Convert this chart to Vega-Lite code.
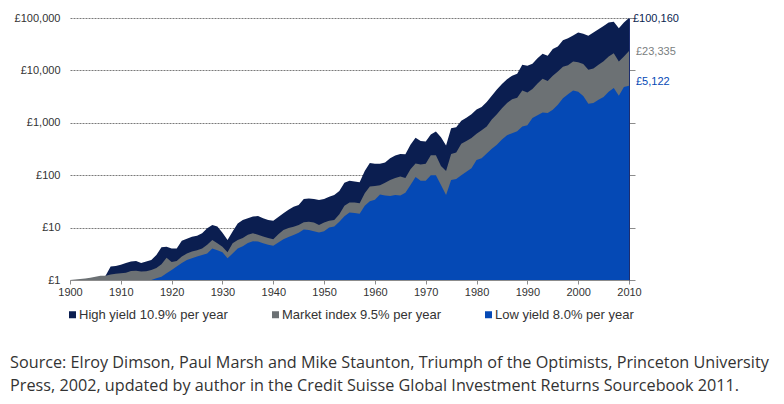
{
  "$schema": "https://vega.github.io/schema/vega-lite/v6.json",
  "autosize": {"type": "none"},
  "width": 559,
  "height": 262,
  "padding": {"left": 70, "top": 18, "right": 155, "bottom": 124},
  "background": "#ffffff",
  "config": {
    "view": {"stroke": null},
    "locale": {
      "number": {"decimal": ".", "thousands": ",", "grouping": [3], "currency": ["£", ""]}
    },
    "axis": {"labelFont": "Liberation Sans", "labelFontSize": 11, "labelColor": "#333333", "title": null},
    "legend": {"labelFont": "Liberation Sans", "labelFontSize": 13, "labelColor": "#333333"}
  },
  "title": {
    "text": [
      "Source: Elroy Dimson, Paul Marsh and Mike Staunton, Triumph of the Optimists, Princeton University",
      "Press, 2002, updated by author in the Credit Suisse Global Investment Returns Sourcebook 2011."
    ],
    "orient": "bottom",
    "anchor": "start",
    "frame": "bounds",
    "font": "Open Sans",
    "fontSize": 16.2,
    "fontWeight": "normal",
    "color": "#333333",
    "lineHeight": 23,
    "offset": 33,
    "dx": -4
  },
  "data": {
    "values": [
      {"year": 1900, "high": 1.0, "market": 1.0, "low": 1.0},
      {"year": 1901, "high": 0.98, "market": 1.02, "low": 0.95},
      {"year": 1902, "high": 1.0, "market": 1.05, "low": 0.92},
      {"year": 1903, "high": 1.02, "market": 1.07, "low": 0.9},
      {"year": 1904, "high": 1.03, "market": 1.1, "low": 0.88},
      {"year": 1905, "high": 1.08, "market": 1.15, "low": 0.9},
      {"year": 1906, "high": 1.12, "market": 1.2, "low": 0.88},
      {"year": 1907, "high": 1.2, "market": 1.2, "low": 0.82},
      {"year": 1908, "high": 1.8, "market": 1.28, "low": 0.8},
      {"year": 1909, "high": 1.85, "market": 1.32, "low": 0.8},
      {"year": 1910, "high": 1.95, "market": 1.34, "low": 0.82},
      {"year": 1911, "high": 2.1, "market": 1.38, "low": 0.8},
      {"year": 1912, "high": 2.25, "market": 1.48, "low": 0.78},
      {"year": 1913, "high": 2.3, "market": 1.5, "low": 0.8},
      {"year": 1914, "high": 2.1, "market": 1.45, "low": 0.78},
      {"year": 1915, "high": 2.25, "market": 1.47, "low": 0.85},
      {"year": 1916, "high": 2.4, "market": 1.55, "low": 1.0},
      {"year": 1917, "high": 3.0, "market": 1.7, "low": 1.08},
      {"year": 1918, "high": 4.2, "market": 2.0, "low": 1.15},
      {"year": 1919, "high": 4.3, "market": 2.65, "low": 1.35},
      {"year": 1920, "high": 4.0, "market": 2.2, "low": 1.55},
      {"year": 1921, "high": 4.0, "market": 2.3, "low": 1.8},
      {"year": 1922, "high": 5.6, "market": 2.8, "low": 2.1},
      {"year": 1923, "high": 6.1, "market": 3.2, "low": 2.4},
      {"year": 1924, "high": 6.7, "market": 3.5, "low": 2.6},
      {"year": 1925, "high": 7.0, "market": 3.7, "low": 2.8},
      {"year": 1926, "high": 7.8, "market": 4.0, "low": 3.0},
      {"year": 1927, "high": 9.7, "market": 4.7, "low": 3.2},
      {"year": 1928, "high": 11.2, "market": 5.8, "low": 4.0},
      {"year": 1929, "high": 10.5, "market": 5.0, "low": 3.7},
      {"year": 1930, "high": 8.0, "market": 4.3, "low": 3.4},
      {"year": 1931, "high": 5.8, "market": 3.4, "low": 2.6},
      {"year": 1932, "high": 8.4, "market": 5.0, "low": 3.2},
      {"year": 1933, "high": 12.0, "market": 5.8, "low": 4.0},
      {"year": 1934, "high": 14.0, "market": 6.3, "low": 4.4},
      {"year": 1935, "high": 15.0, "market": 7.3, "low": 5.1},
      {"year": 1936, "high": 16.2, "market": 7.8, "low": 5.5},
      {"year": 1937, "high": 16.7, "market": 7.3, "low": 5.4},
      {"year": 1938, "high": 15.0, "market": 6.8, "low": 5.0},
      {"year": 1939, "high": 14.0, "market": 6.3, "low": 4.7},
      {"year": 1940, "high": 13.5, "market": 6.0, "low": 4.5},
      {"year": 1941, "high": 16.0, "market": 7.5, "low": 5.2},
      {"year": 1942, "high": 18.8, "market": 9.0, "low": 6.0},
      {"year": 1943, "high": 22.0, "market": 9.8, "low": 6.6},
      {"year": 1944, "high": 25.0, "market": 10.4, "low": 7.2},
      {"year": 1945, "high": 27.0, "market": 11.2, "low": 8.0},
      {"year": 1946, "high": 35.0, "market": 12.7, "low": 9.2},
      {"year": 1947, "high": 36.0, "market": 12.9, "low": 9.0},
      {"year": 1948, "high": 35.0, "market": 12.5, "low": 8.5},
      {"year": 1949, "high": 33.8, "market": 11.2, "low": 8.1},
      {"year": 1950, "high": 35.0, "market": 12.5, "low": 8.5},
      {"year": 1951, "high": 39.0, "market": 13.5, "low": 10.0},
      {"year": 1952, "high": 42.0, "market": 14.0, "low": 10.5},
      {"year": 1953, "high": 50.0, "market": 18.0, "low": 13.0},
      {"year": 1954, "high": 72.0, "market": 26.0, "low": 16.5},
      {"year": 1955, "high": 78.0, "market": 30.0, "low": 19.4},
      {"year": 1956, "high": 76.0, "market": 30.0, "low": 19.0},
      {"year": 1957, "high": 73.0, "market": 29.0, "low": 18.3},
      {"year": 1958, "high": 120.0, "market": 45.0, "low": 26.0},
      {"year": 1959, "high": 170.0, "market": 61.0, "low": 32.0},
      {"year": 1960, "high": 165.0, "market": 62.0, "low": 34.0},
      {"year": 1961, "high": 165.0, "market": 64.0, "low": 43.0},
      {"year": 1962, "high": 175.0, "market": 72.0, "low": 41.0},
      {"year": 1963, "high": 210.0, "market": 81.0, "low": 40.0},
      {"year": 1964, "high": 237.0, "market": 88.0, "low": 42.0},
      {"year": 1965, "high": 255.0, "market": 94.0, "low": 41.0},
      {"year": 1966, "high": 250.0, "market": 88.0, "low": 46.0},
      {"year": 1967, "high": 380.0, "market": 130.0, "low": 65.0},
      {"year": 1968, "high": 520.0, "market": 168.0, "low": 92.0},
      {"year": 1969, "high": 450.0, "market": 160.0, "low": 78.0},
      {"year": 1970, "high": 440.0, "market": 165.0, "low": 78.0},
      {"year": 1971, "high": 600.0, "market": 240.0, "low": 100.0},
      {"year": 1972, "high": 680.0, "market": 240.0, "low": 100.0},
      {"year": 1973, "high": 530.0, "market": 150.0, "low": 65.0},
      {"year": 1974, "high": 370.0, "market": 120.0, "low": 42.0},
      {"year": 1975, "high": 790.0, "market": 255.0, "low": 81.0},
      {"year": 1976, "high": 825.0, "market": 270.0, "low": 85.0},
      {"year": 1977, "high": 1100.0, "market": 400.0, "low": 100.0},
      {"year": 1978, "high": 1250.0, "market": 450.0, "low": 117.0},
      {"year": 1979, "high": 1450.0, "market": 510.0, "low": 136.0},
      {"year": 1980, "high": 1800.0, "market": 620.0, "low": 195.0},
      {"year": 1981, "high": 2000.0, "market": 720.0, "low": 210.0},
      {"year": 1982, "high": 2500.0, "market": 850.0, "low": 260.0},
      {"year": 1983, "high": 3300.0, "market": 1150.0, "low": 320.0},
      {"year": 1984, "high": 4300.0, "market": 1450.0, "low": 380.0},
      {"year": 1985, "high": 5500.0, "market": 1900.0, "low": 480.0},
      {"year": 1986, "high": 6800.0, "market": 2400.0, "low": 580.0},
      {"year": 1987, "high": 7900.0, "market": 2800.0, "low": 635.0},
      {"year": 1988, "high": 8600.0, "market": 3000.0, "low": 690.0},
      {"year": 1989, "high": 12800.0, "market": 4150.0, "low": 850.0},
      {"year": 1990, "high": 12300.0, "market": 3800.0, "low": 900.0},
      {"year": 1991, "high": 13400.0, "market": 4400.0, "low": 1230.0},
      {"year": 1992, "high": 17000.0, "market": 5600.0, "low": 1400.0},
      {"year": 1993, "high": 20800.0, "market": 6900.0, "low": 1580.0},
      {"year": 1994, "high": 19000.0, "market": 6300.0, "low": 1530.0},
      {"year": 1995, "high": 25700.0, "market": 7900.0, "low": 1770.0},
      {"year": 1996, "high": 28600.0, "market": 9500.0, "low": 2200.0},
      {"year": 1997, "high": 37600.0, "market": 11800.0, "low": 2950.0},
      {"year": 1998, "high": 41000.0, "market": 12500.0, "low": 3500.0},
      {"year": 1999, "high": 46400.0, "market": 14800.0, "low": 4150.0},
      {"year": 2000, "high": 53000.0, "market": 14300.0, "low": 3900.0},
      {"year": 2001, "high": 50000.0, "market": 13300.0, "low": 3250.0},
      {"year": 2002, "high": 45700.0, "market": 10300.0, "low": 2300.0},
      {"year": 2003, "high": 52600.0, "market": 10900.0, "low": 2400.0},
      {"year": 2004, "high": 61000.0, "market": 12800.0, "low": 2750.0},
      {"year": 2005, "high": 70000.0, "market": 15000.0, "low": 3100.0},
      {"year": 2006, "high": 82000.0, "market": 18500.0, "low": 3900.0},
      {"year": 2007, "high": 85000.0, "market": 21300.0, "low": 4600.0},
      {"year": 2008, "high": 64000.0, "market": 14800.0, "low": 3300.0},
      {"year": 2009, "high": 82000.0, "market": 18400.0, "low": 4800.0},
      {"year": 2010, "high": 100160.0, "market": 23335.0, "low": 5122.0}
    ]
  },
  "transform": [{"fold": ["high", "market", "low"], "as": ["series", "value"]}],
  "resolve": {"axis": {"y": "independent"}},
  "encoding": {
    "x": {
      "field": "year",
      "type": "quantitative",
      "scale": {"domain": [1900, 2010], "nice": false, "zero": false},
      "axis": {
        "values": [1900, 1910, 1920, 1930, 1940, 1950, 1960, 1970, 1980, 1990, 2000, 2010],
        "format": "d",
        "grid": false,
        "domain": true,
        "domainColor": "#8c8c8c",
        "ticks": true,
        "tickColor": "#8c8c8c",
        "tickSize": 4,
        "labelPadding": 2,
        "labelFlush": false
      }
    },
    "color": {
      "field": "series",
      "type": "nominal",
      "scale": {"domain": ["high", "market", "low"], "range": ["#0b1e50", "#6c7174", "#0549b5"]},
      "legend": {
        "title": null,
        "orient": "none",
        "legendX": -4,
        "legendY": 290,
        "direction": "horizontal",
        "symbolType": "square",
        "symbolSize": 49,
        "symbolStrokeWidth": 0,
        "symbolOpacity": 1,
        "labelOffset": 0,
        "columnPadding": 41,
        "labelExpr": "datum.label == 'high' ? 'High yield 10.9% per year' : datum.label == 'market' ? 'Market index 9.5% per year' : 'Low yield 8.0% per year'"
      }
    }
  },
  "layer": [
    {
      "transform": [{"filter": "datum.series == 'high'"}],
      "mark": {"type": "area", "clip": true, "opacity": 1},
      "encoding": {
        "y": {
          "field": "value",
          "type": "quantitative",
          "scale": {"type": "log", "domain": [1, 100000], "nice": false},
          "axis": {
            "orient": "left",
            "values": [1, 10, 100, 1000, 10000, 100000],
            "format": "$,.0f",
            "domain": false,
            "ticks": false,
            "labelPadding": 10,
            "grid": true,
            "gridColor": "#7a7a7a",
            "gridWidth": 1,
            "gridDash": [2, 1]
          }
        },
        "y2": {"datum": 1}
      }
    },
    {
      "transform": [{"filter": "datum.series == 'market'"}],
      "mark": {"type": "area", "clip": true, "opacity": 1},
      "encoding": {
        "y": {
          "field": "value",
          "type": "quantitative",
          "axis": {
            "orient": "right",
            "values": [1, 10, 100, 1000, 10000, 100000],
            "labels": false,
            "grid": false,
            "domain": true,
            "domainColor": "#1d2d6e",
            "ticks": true,
            "tickColor": "#8c8c8c",
            "tickSize": 6
          }
        },
        "y2": {"datum": 1}
      }
    },
    {
      "transform": [{"filter": "datum.series == 'low'"}],
      "mark": {"type": "area", "clip": true, "opacity": 1},
      "encoding": {
        "y": {"field": "value", "type": "quantitative", "axis": null},
        "y2": {"datum": 1}
      }
    },
    {
      "transform": [{"filter": "datum.series == 'high' && datum.year == 2010"}],
      "mark": {"type": "text", "align": "left", "baseline": "middle", "dx": 4, "dy": 1.5, "font": "Liberation Sans", "fontSize": 11},
      "encoding": {
        "y": {"field": "value", "type": "quantitative", "axis": null},
        "text": {"field": "value", "type": "quantitative", "format": "$,.0f"},
        "color": {"value": "#0b1e50"}
      }
    },
    {
      "transform": [{"filter": "datum.series == 'market' && datum.year == 2010"}],
      "mark": {"type": "text", "align": "left", "baseline": "middle", "dx": 7, "dy": 1, "font": "Liberation Sans", "fontSize": 11},
      "encoding": {
        "y": {"field": "value", "type": "quantitative", "axis": null},
        "text": {"field": "value", "type": "quantitative", "format": "$,.0f"},
        "color": {"value": "#7a7e80"}
      }
    },
    {
      "transform": [{"filter": "datum.series == 'low' && datum.year == 2010"}],
      "mark": {"type": "text", "align": "left", "baseline": "middle", "dx": 7, "dy": -4, "font": "Liberation Sans", "fontSize": 11},
      "encoding": {
        "y": {"field": "value", "type": "quantitative", "axis": null},
        "text": {"field": "value", "type": "quantitative", "format": "$,.0f"},
        "color": {"value": "#0549b5"}
      }
    }
  ]
}
